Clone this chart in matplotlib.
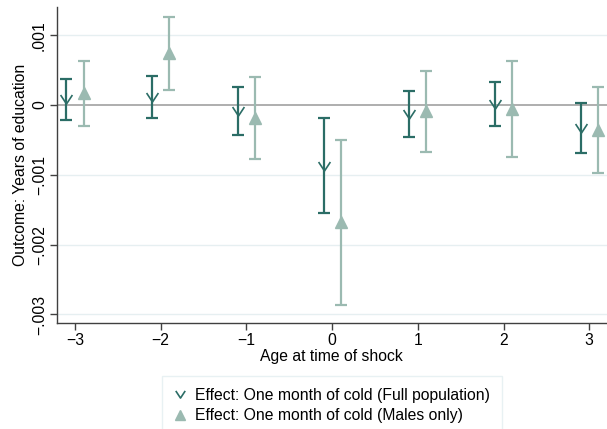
import matplotlib
matplotlib.use("Agg")
import matplotlib.pyplot as plt
from matplotlib.path import Path
import numpy as np

plt.rcParams['font.family'] = ['Liberation Sans', 'DejaVu Sans']

# Age at time of shock
ages = [-3, -2, -1, 0, 1, 2, 3]

# Full population: point estimate and 95% CI
full_est = [0.00008, 0.000115, -0.00009, -0.00087, -0.000127, 0.000017, -0.000325]
full_lo = [-0.00021, -0.000186, -0.000434, -0.00155, -0.000458, -0.0003, -0.000683]
full_hi = [0.000368, 0.000415, 0.000258, -0.000186, 0.000205, 0.000334, 0.000033]

# Males only: point estimate and 95% CI
male_est = [0.00017, 0.00074, -0.00019, -0.00168, -0.00009, -0.00006, -0.00036]
male_lo = [-0.000296, 0.000215, -0.000778, -0.00287, -0.000673, -0.000745, -0.000979]
male_hi = [0.00063, 0.00126, 0.000406, -0.000497, 0.000492, 0.00063, 0.000253]

y_ticks = [-0.003, -0.002, -0.001, 0, 0.001]
y_labels = ["\u2212.003", "\u2212.002", "\u2212.001", "0", ".001"]
x_labels = ["\u22123", "\u22122", "\u22121", "0", "1", "2", "3"]

dark = "#2b6d66"
light = "#9bbab1"
fs = 11.3

chevron = Path([(-0.5, 0.38), (0.0, -0.38), (0.5, 0.38)],
               [Path.MOVETO, Path.LINETO, Path.LINETO])

fig = plt.figure(figsize=(6.07, 4.29), dpi=100)
ax = fig.add_axes([0.0934, 0.247, 0.9066, 0.7367])

x = np.array(ages, dtype=float)
fe = np.array(full_est)
me = np.array(male_est)

ax.axhline(0, color="#a8a8a8", lw=1.3, zorder=1)
for yt in y_ticks:
    if yt != 0:
        ax.axhline(yt, color="#e6eff1", lw=1.0, zorder=0)

ax.errorbar(x - 0.1, fe, yerr=[fe - np.array(full_lo), np.array(full_hi) - fe],
            fmt="none", ecolor=dark, elinewidth=1.6, capsize=4.2, capthick=1.6, zorder=3)
ax.plot(x - 0.1, fe, linestyle="none", marker=chevron, markersize=8.5,
        markerfacecolor="none", markeredgecolor=dark, markeredgewidth=1.2, zorder=4,
        label="Effect: One month of cold (Full population)")

ax.errorbar(x + 0.1, me, yerr=[me - np.array(male_lo), np.array(male_hi) - me],
            fmt="none", ecolor=light, elinewidth=1.6, capsize=4.2, capthick=1.6, zorder=3)
ax.plot(x + 0.1, me, linestyle="none", marker="^", markersize=9,
        color=light, markeredgecolor=light, zorder=4,
        label="Effect: One month of cold (Males only)")

ax.set_xlim(-3.213, 3.207)
ax.set_ylim(-0.003123, 0.001404)
ax.set_xticks(ages)
ax.set_xticklabels(x_labels, fontsize=fs)
ax.set_yticks(y_ticks)
ax.set_yticklabels(y_labels, fontsize=fs, rotation=90, va="center")

for s in ["top", "right"]:
    ax.spines[s].set_visible(False)
for s in ["left", "bottom"]:
    ax.spines[s].set_color("#404040")
    ax.spines[s].set_linewidth(1.0)
ax.tick_params(axis="both", direction="out", length=5, width=1.0, color="#404040", pad=2)

ax.set_xlabel("Age at time of shock", fontsize=fs, labelpad=1)
ax.set_ylabel("Outcome: Years of education", fontsize=fs, labelpad=3)

leg = ax.legend(loc="upper center", bbox_to_anchor=(0.5, -0.168), ncol=1,
                fontsize=fs, frameon=True, fancybox=False, handlelength=0.9,
                handletextpad=0.5, borderpad=0.75, labelspacing=0.35,
                markerscale=0.8, borderaxespad=0.0)
leg.get_frame().set_edgecolor("#e3eef0")
leg.get_frame().set_linewidth(1.0)

fig.savefig("out.png", dpi=100)
